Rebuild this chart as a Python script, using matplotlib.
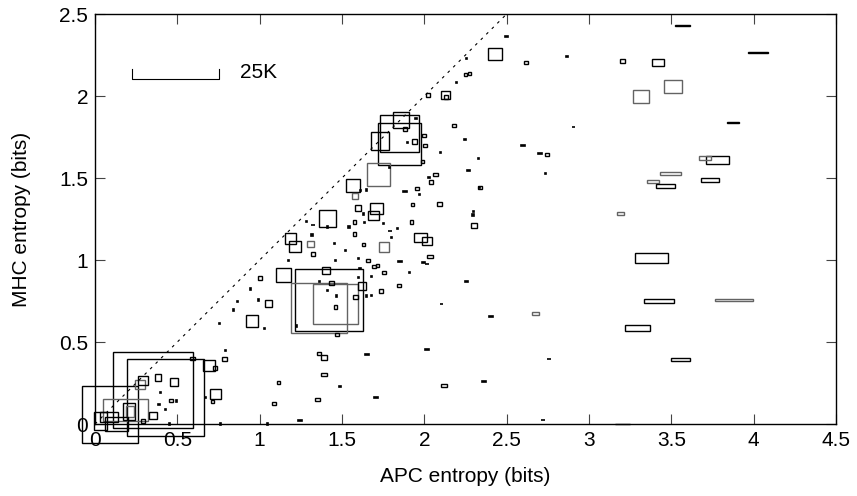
import matplotlib
matplotlib.use('Agg')
import matplotlib.pyplot as plt
from matplotlib.patches import Rectangle

plt.rcParams['font.family'] = ['Liberation Sans', 'DejaVu Sans']

# box centres (APC entropy, MHC entropy), box sizes (in axis units) and edge group
apc = [1.860, 1.848, 1.850, 1.728, 1.720, 1.566, 1.580, 1.412, 1.597, 1.710,
       1.691, 1.188, 1.214, 1.309, 1.325, 1.757, 1.976, 2.018, 1.143, 1.422,
       1.361, 1.460, 1.404, 1.622, 0.953, 1.052,
       2.428, 3.419, 3.316, 3.510, 3.568, 4.025, 3.875, 3.782, 3.707, 3.494,
       3.389, 3.464, 3.736, 3.193, 3.381, 3.426, 3.881, 2.676, 3.294, 3.558,
       3.205,
       0.353, 0.428, 0.090, 0.188, 0.206, 0.213, 0.034, 0.087, 0.132, 0.352,
       0.275, 0.290, 0.382, 0.478, 0.591, 0.694, 0.730, 2.126]
mhc = [1.854, 1.770, 1.706, 1.724, 1.520, 1.454, 1.390, 1.254, 1.317, 1.312,
       1.270, 1.132, 1.083, 1.098, 1.037, 1.079, 1.136, 1.116, 0.909, 0.754,
       0.707, 0.731, 0.936, 0.841, 0.626, 0.736,
       2.256, 2.203, 1.997, 2.057, 2.429, 2.264, 1.837, 1.612, 1.621, 1.526,
       1.477, 1.453, 1.490, 1.285, 1.011, 0.748, 0.756, 0.673, 0.584, 0.392,
       0.000,
       0.207, 0.160, 0.059, 0.085, 0.077, 0.078, 0.017, 0.045, 0.000, 0.052,
       0.240, 0.265, 0.282, 0.257, 0.401, 0.357, 0.183, 2.005]
apc_w = [0.097, 0.235, 0.259, 0.109, 0.142, 0.085, 0.040, 0.101, 0.040, 0.081,
         0.063, 0.071, 0.069, 0.040, 0.028, 0.061, 0.083, 0.061, 0.089, 0.417,
         0.342, 0.269, 0.049, 0.050, 0.077, 0.044,
         0.083, 0.069, 0.093, 0.109, 0.091, 0.122, 0.069, 0.142, 0.073, 0.126,
         0.077, 0.113, 0.107, 0.040, 0.199, 0.184, 0.227, 0.045, 0.154, 0.115,
         0.090,
         0.482, 0.466, 0.340, 0.273, 0.075, 0.050, 0.075, 0.111, 0.142, 0.050,
         0.063, 0.061, 0.040, 0.050, 0.034, 0.075, 0.065, 0.055]
mhc_h = [0.094, 0.227, 0.254, 0.108, 0.138, 0.083, 0.040, 0.102, 0.040, 0.067,
         0.057, 0.069, 0.065, 0.040, 0.024, 0.057, 0.053, 0.045, 0.081, 0.378,
         0.309, 0.242, 0.047, 0.049, 0.073, 0.041,
         0.077, 0.045, 0.079, 0.081, 0.006, 0.006, 0.005, 0.049, 0.022, 0.018,
         0.018, 0.024, 0.024, 0.016, 0.059, 0.024, 0.016, 0.020, 0.037, 0.020,
         0.004,
         0.459, 0.468, 0.345, 0.130, 0.105, 0.065, 0.108, 0.061, 0.091, 0.047,
         0.057, 0.055, 0.040, 0.050, 0.020, 0.067, 0.057, 0.051]
group = [0, 0, 0, 0, 1, 0, 1, 0, 0, 0,
         0, 0, 0, 1, 0, 1, 0, 0, 0, 0,
         1, 1, 0, 0, 0, 0,
         0, 0, 1, 1, 0, 0, 0, 0, 1, 1,
         1, 0, 0, 1, 0, 0, 1, 1, 0, 0,
         0,
         0, 0, 0, 1, 0, 1, 0, 0, 0, 0,
         1, 0, 0, 0, 0, 0, 0, 0]

# small boxes
small_apc = [2.182, 2.069, 2.043, 1.955, 1.929, 2.093, 2.301, 1.923, 1.577, 1.574,
             1.629, 1.657, 1.694, 1.757, 2.034, 1.844, 1.583, 1.434, 1.739, 1.459,
             1.471, 1.003, 1.943, 1.998, 2.002, 1.987, 1.882, 2.617, 3.205, 2.249,
             2.273, 2.745, 2.338, 0.785, 0.728, 0.712, 1.115, 1.086, 1.360, 1.388,
             1.390, 2.121, 1.352, 0.463, 0.292, 2.022, 2.133, 1.714]
small_mhc = [1.819, 1.522, 1.476, 1.437, 1.337, 1.341, 1.209, 1.232, 1.232, 1.159,
             1.093, 0.998, 0.959, 0.923, 1.023, 0.846, 0.774, 0.859, 0.811, 0.713,
             0.547, 0.888, 1.721, 1.758, 1.699, 1.602, 1.799, 2.205, 2.213, 2.134,
             2.138, 1.644, 1.443, 0.395, 0.341, 0.136, 0.252, 0.126, 0.429, 0.405,
             0.301, 0.234, 0.151, 0.145, 0.018, 2.008, 1.992, 0.968]
small_w = [0.025, 0.028, 0.025, 0.020, 0.020, 0.028, 0.032, 0.020, 0.020, 0.020,
           0.020, 0.025, 0.025, 0.025, 0.032, 0.025, 0.028, 0.030, 0.025, 0.020,
           0.025, 0.025, 0.030, 0.025, 0.025, 0.020, 0.025, 0.020, 0.033, 0.020,
           0.020, 0.020, 0.020, 0.030, 0.025, 0.020, 0.020, 0.022, 0.025, 0.036,
           0.032, 0.036, 0.028, 0.025, 0.025, 0.025, 0.025, 0.020]
small_h = [0.020, 0.020, 0.020, 0.020, 0.020, 0.020, 0.028, 0.020, 0.020, 0.020,
           0.020, 0.020, 0.020, 0.020, 0.020, 0.020, 0.028, 0.026, 0.020, 0.020,
           0.020, 0.025, 0.030, 0.020, 0.020, 0.020, 0.020, 0.015, 0.020, 0.018,
           0.018, 0.015, 0.018, 0.025, 0.020, 0.018, 0.015, 0.015, 0.020, 0.026,
           0.020, 0.020, 0.016, 0.020, 0.020, 0.025, 0.025, 0.020]

# tiny marks (dots)
dot_apc = [2.247, 2.097, 2.330, 2.028, 1.971, 2.334, 2.300, 2.295, 1.631, 1.635,
           1.750, 1.836, 1.799, 1.542, 1.453, 1.522, 1.317, 1.283, 1.412, 1.175,
           1.459, 1.599, 1.908, 1.678, 1.609, 1.600, 1.364, 1.649, 1.680, 1.410,
           1.467, 1.224, 0.945, 0.864, 0.991, 0.843, 1.028, 1.898, 1.787, 1.949,
           1.649, 1.614, 2.866, 2.257, 2.196, 2.735, 0.793, 0.671, 0.762, 1.048,
           1.487, 0.754, 0.396, 0.388, 0.428, 0.497, 0.453]
dot_mhc = [1.734, 1.657, 1.620, 1.502, 1.400, 1.443, 1.295, 1.274, 1.280, 1.227,
           1.224, 1.193, 1.138, 1.201, 1.102, 1.057, 1.152, 1.234, 1.201, 0.996,
           0.996, 1.008, 0.923, 0.898, 0.947, 0.895, 0.870, 0.780, 0.782, 0.813,
           0.780, 0.598, 0.823, 0.748, 0.756, 0.695, 0.581, 1.718, 1.563, 1.864,
           1.427, 1.423, 2.240, 2.228, 2.084, 1.529, 0.449, 0.160, 0.000, 0.000,
           0.227, 0.614, 0.193, 0.120, 0.087, 0.140, 0.000]

# tiny marks (short dashes)
dash_apc = [2.268, 1.882, 1.791, 1.325, 1.852, 1.994, 2.016, 2.255, 2.105, 2.018,
            2.500, 2.905, 2.599, 2.702, 2.405, 2.757, 2.364, 2.722, 1.244, 1.653,
            1.708]
dash_mhc = [1.547, 1.419, 1.177, 1.213, 0.992, 0.986, 0.976, 0.870, 0.732, 0.455,
            2.362, 1.811, 1.697, 1.648, 0.654, 0.396, 0.260, 0.023, 0.020, 0.423,
            0.163]

xticks = [0, 0.5, 1, 1.5, 2, 2.5, 3, 3.5, 4, 4.5]
xticklabels = ['0', '0.5', '1', '1.5', '2', '2.5', '3', '3.5', '4', '4.5']
yticks = [0, 0.5, 1, 1.5, 2, 2.5]
yticklabels = ['0', '0.5', '1', '1.5', '2', '2.5']

edge = {0: 'black', 1: '#636363'}


def add_box(ax, cx, cy, w, h, color, lw=1.0):
    r = Rectangle((cx - w / 2, cy - h / 2), w, h, fill=False, edgecolor=color,
                  linewidth=lw, clip_on=False)
    ax.add_patch(r)


fig = plt.figure(figsize=(8.57, 4.96), dpi=100)
ax = fig.add_axes([95 / 857, 1 - 424 / 496, (836 - 95) / 857, (424 - 14) / 496])

ax.plot([0, 2.5], [0, 2.5], color='black', lw=0.8, linestyle=(0, (2.5, 4.5)))

for i in range(len(apc)):
    add_box(ax, apc[i], mhc[i], apc_w[i], mhc_h[i], edge[group[i]])
for i in range(len(small_apc)):
    add_box(ax, small_apc[i], small_mhc[i], small_w[i], small_h[i], 'black')
for i in range(len(dot_apc)):
    add_box(ax, dot_apc[i], dot_mhc[i], 0.008, 0.008, 'black', lw=1.2)
for i in range(len(dash_apc)):
    add_box(ax, dash_apc[i], dash_mhc[i], 0.022, 0.003, 'black', lw=1.2)

# scale bar
ax.plot([0.225, 0.225, 0.752, 0.752], [2.165, 2.102, 2.102, 2.165],
        color='black', lw=0.8)
ax.text(0.88, 2.142, '25K', fontsize=15, va='center', ha='left')

ax.set_xlim(0, 4.5)
ax.set_ylim(0, 2.5)
ax.set_xticks(xticks)
ax.set_xticklabels(xticklabels)
ax.set_yticks(yticks)
ax.set_yticklabels(yticklabels)
ax.tick_params(direction='in', length=7.5, width=0.8, top=True, right=True,
               labelsize=15, pad=5, color='#444444')
for s in ax.spines.values():
    s.set_linewidth(1.0)

ax.set_xlabel('APC entropy (bits)', fontsize=15, labelpad=12)
ax.set_ylabel('MHC entropy (bits)', fontsize=15, labelpad=20)

fig.savefig('out.png', dpi=100)
